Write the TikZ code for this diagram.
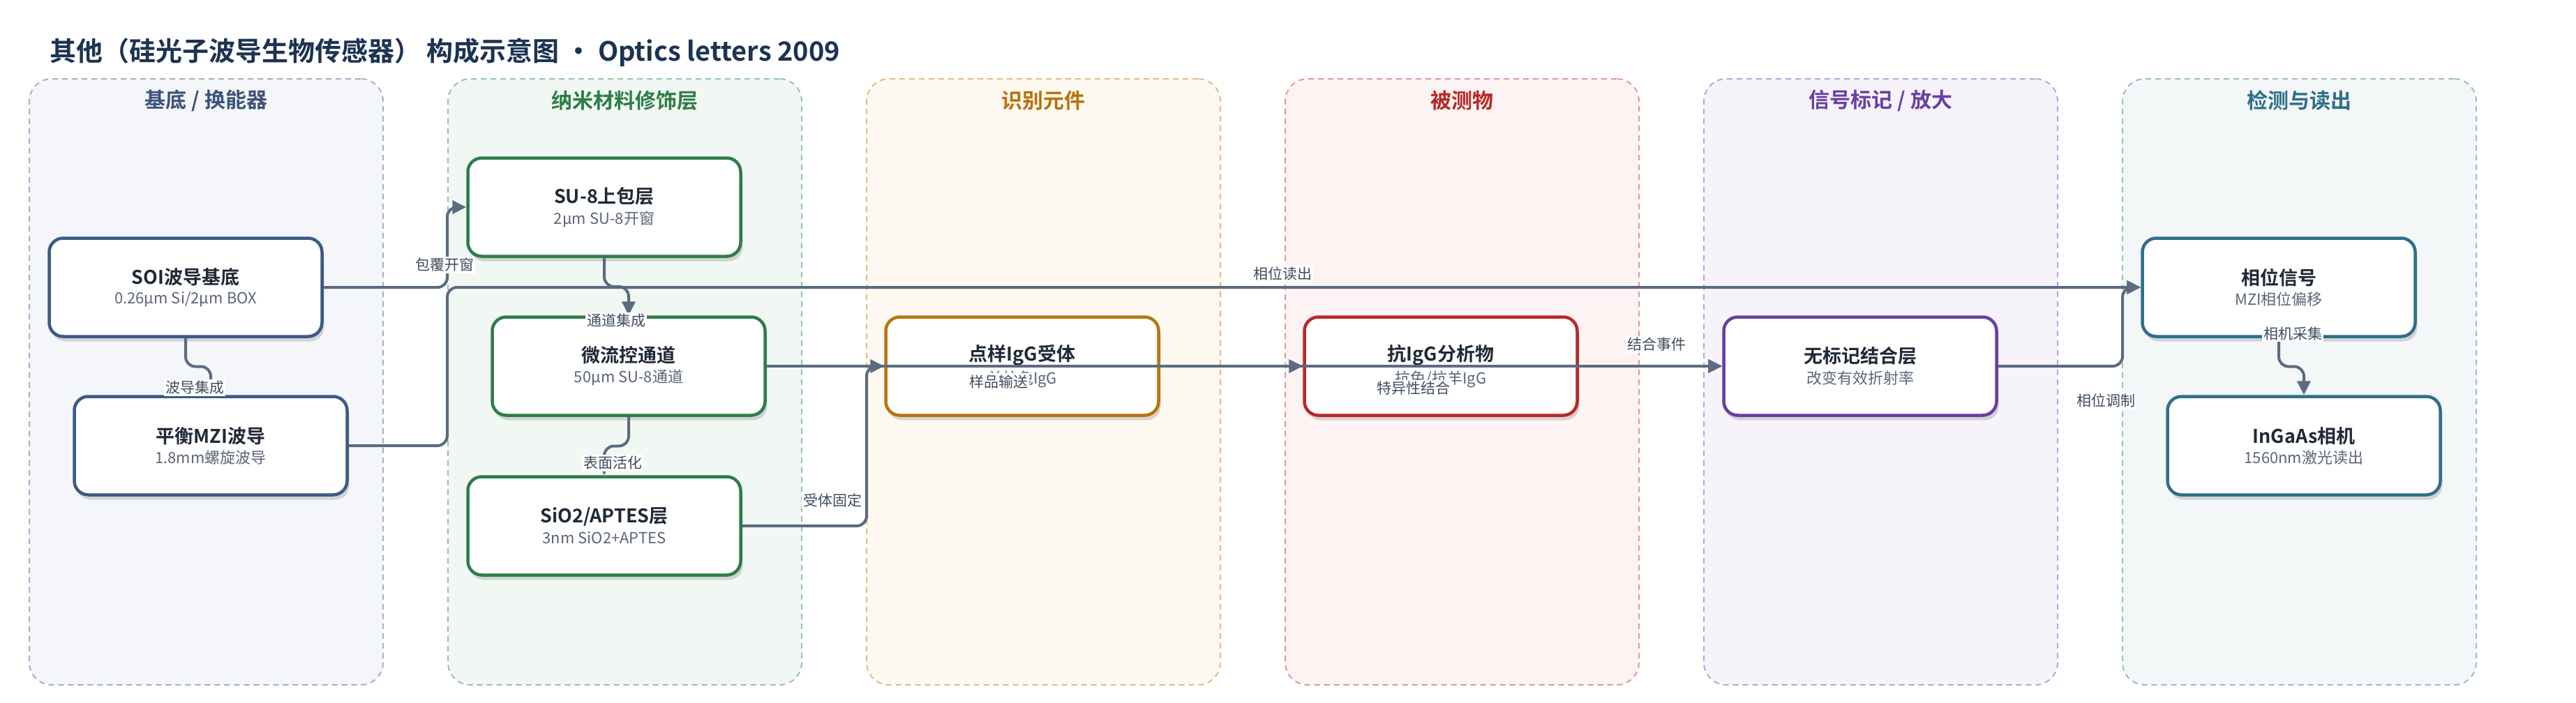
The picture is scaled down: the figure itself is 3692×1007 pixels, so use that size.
\documentclass[tikz,border=0pt]{standalone}
\usepackage{fontspec}
\setmainfont{Noto Sans CJK SC}[BoldFont={Noto Sans CJK SC Bold}]
\usetikzlibrary{arrows.meta,shadows,calc}
\definecolor{titlec}{HTML}{1C3352}
\definecolor{edgec}{HTML}{5B6B80}
\definecolor{lblc}{HTML}{404D5E}
\definecolor{ntext}{HTML}{1F2937}
\definecolor{nsub}{HTML}{5B6677}
% lanes
\definecolor{laAf}{HTML}{F4F6FA}\definecolor{laAd}{HTML}{A5B2C8}\definecolor{laAt}{HTML}{3D5378}
\definecolor{laBf}{HTML}{F1F8F3}\definecolor{laBd}{HTML}{98C4A8}\definecolor{laBt}{HTML}{2E7D46}
\definecolor{laCf}{HTML}{FDF8F0}\definecolor{laCd}{HTML}{E2BD82}\definecolor{laCt}{HTML}{B8720C}
\definecolor{laDf}{HTML}{FDF3F2}\definecolor{laDd}{HTML}{E29A9A}\definecolor{laDt}{HTML}{B82626}
\definecolor{laEf}{HTML}{F6F3FB}\definecolor{laEd}{HTML}{BBA5DC}\definecolor{laEt}{HTML}{6B3FA3}
\definecolor{laFf}{HTML}{F3F7F8}\definecolor{laFd}{HTML}{9DBCCB}\definecolor{laFt}{HTML}{2F6F88}
% node borders
\definecolor{nbA}{HTML}{3D5A85}
\definecolor{nbB}{HTML}{2E7D4A}
\definecolor{nbC}{HTML}{B87410}
\definecolor{nbD}{HTML}{B82828}
\definecolor{nbE}{HTML}{6A3FA0}
\definecolor{nbF}{HTML}{2F6F8A}
\tikzset{
  lane/.style n args={2}{draw=#2, fill=#1, line width=2pt, dash pattern=on 8pt off 6pt,
    rounded corners=32pt, minimum width=507pt, minimum height=869pt, inner sep=0pt},
  lanetitle/.style={font=\fontsize{30}{34}\selectfont\bfseries, text=#1},
  box/.style={draw=#1, line width=4.5pt, rounded corners=20pt, fill=white,
    minimum width=391pt, minimum height=141pt, align=center, text=ntext, inner sep=0pt,
    drop shadow={shadow xshift=3pt, shadow yshift=-7pt, opacity=0.14, fill=black}},
  conn/.style={draw=edgec, line width=4pt, rounded corners=14pt,
    -{Triangle[length=20pt,width=19pt]}},
  lbl/.style={fill=white, inner sep=2pt, text=lblc, font=\fontsize{21}{24}\selectfont},
}
\newcommand{\bt}[2]{{\fontsize{27}{30}\selectfont\bfseries #1}\\[7pt]{\fontsize{22}{26}\selectfont\color{nsub}#2}}
\begin{document}
\begin{tikzpicture}[x=1pt,y=-1pt]
\path[use as bounding box, fill=white] (0,0) rectangle (3692,1007);
% title
\node[anchor=west, text=titlec, font=\fontsize{38}{44}\selectfont\bfseries, inner sep=0pt] (title) at (71,75)
  {其他（硅光子波导生物传感器） 构成示意图 · Optics letters 2009};
% lanes
\node[lane={laAf}{laAd}] (L1) at (295.5,547.5) {};
\node[lane={laBf}{laBd}] (L2) at (895.5,547.5) {};
\node[lane={laCf}{laCd}] (L3) at (1495.5,547.5) {};
\node[lane={laDf}{laDd}] (L4) at (2095.5,547.5) {};
\node[lane={laEf}{laEd}] (L5) at (2695.5,547.5) {};
\node[lane={laFf}{laFd}] (L6) at (3295.5,547.5) {};
\node[lanetitle=laAt] (T1) at (295.5,144) {基底 / 换能器};
\node[lanetitle=laBt] (T2) at (895.5,144) {纳米材料修饰层};
\node[lanetitle=laCt] (T3) at (1495.5,144) {识别元件};
\node[lanetitle=laDt] (T4) at (2095.5,144) {被测物};
\node[lanetitle=laEt] (T5) at (2695.5,144) {信号标记 / 放大};
\node[lanetitle=laFt] (T6) at (3295.5,144) {检测与读出};
% nodes
\node[box=nbA] (soi) at (266,412) {\bt{SOI波导基底}{0.26μm Si/2μm BOX}};
\node[box=nbA] (mzi) at (302,639) {\bt{平衡MZI波导}{1.8mm螺旋波导}};
\node[box=nbB] (su8) at (866,297) {\bt{SU-8上包层}{2μm SU-8开窗}};
\node[box=nbB] (mf) at (901,525) {\bt{微流控通道}{50μm SU-8通道}};
\node[box=nbB] (sio2) at (866,754) {\bt{SiO2/APTES层}{3nm SiO2+APTES}};
\node[box=nbC] (rec) at (1465,525) {\bt{点样IgG受体}{羊抗兔IgG}};
\node[box=nbD] (ana) at (2065,525) {\bt{抗IgG分析物}{抗兔/抗羊IgG}};
\node[box=nbE] (lf) at (2666,525) {\bt{无标记结合层}{改变有效折射率}};
\node[box=nbF] (phase) at (3266,412) {\bt{相位信号}{MZI相位偏移}};
\node[box=nbF] (cam) at (3302,639) {\bt{InGaAs相机}{1560nm激光读出}};
% helper coordinates
\coordinate (vx1) at (641,0);
\coordinate (vx2) at (1242,0);
\coordinate (vx3) at (3042,0);
% connectors
\draw[conn] (soi.east) -- (soi.east -| vx1) |- (su8.west);
\draw[conn] (mzi.east) -- (mzi.east -| vx1) |- (phase.west);
\draw[conn] (soi.south) -- ($(soi.south)!0.5!(soi.south |- mzi.north)$) -| (mzi.north);
\draw[conn] (su8.south) -- ($(su8.south)!0.5!(su8.south |- mf.north)$) -| (mf.north);
\draw[conn] (mf.south) -- ($(mf.south)!0.5!(mf.south |- sio2.north)$) -| (sio2.north);
\draw[conn] (sio2.east) -- (sio2.east -| vx2) |- (rec.west);
\draw[conn] (mf.east) -- (ana.west);
\draw[conn] (rec.east) -- (lf.west);
\draw[conn] (ana.east) -- (lf.west);
\draw[conn] (lf.east) -- (lf.east -| vx3) |- (phase.west);
\draw[conn] (phase.south) -- ($(phase.south)!0.5!(phase.south |- cam.north)$) -| (cam.north);
% labels
\node[lbl] (l1) at (637,380) {包覆开窗};
\node[lbl] (l2) at (1838,392) {相位读出};
\node[lbl] (l3) at (883,460) {通道集成};
\node[lbl] (l4) at (279,556) {波导集成};
\node[lbl] (l5) at (878,664) {表面活化};
\node[lbl] (l6) at (1193,717) {受体固定};
\node[lbl] (l7) at (1431,547) {样品输送};
\node[lbl] (l8) at (2026,557) {特异性结合};
\node[lbl] (l9) at (2374,494) {结合事件};
\node[lbl] (l10) at (3018,574) {相位调制};
\node[lbl] (l11) at (3286,478) {相机采集};
\end{tikzpicture}
\end{document}
